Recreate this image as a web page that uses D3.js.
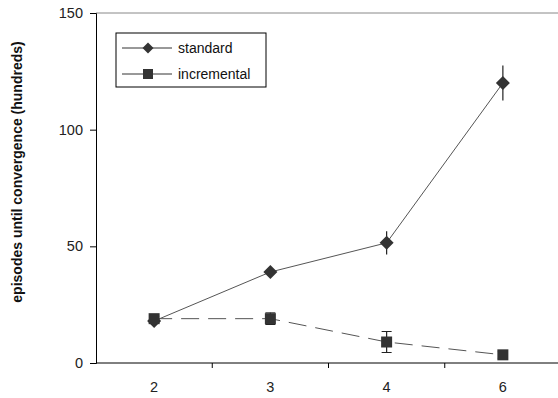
<!DOCTYPE html>
<html>
<head>
<meta charset="utf-8">
<script src="https://cdn.jsdelivr.net/npm/d3@7"></script>
<style>
  body { margin: 0; background: #fff; }
  svg { font-family: "Liberation Sans", Arial, sans-serif; }
</style>
</head>
<body>
<svg id="chart" width="558" height="398"></svg>
<script>
// values (hundreds of episodes)
const categories = ['2', '3', '4', '6'];
const standard = [18, 39, 51.5, 120];
const standardErr = [1, 2, 5, 7.5];
const incremental = [19, 19, 9, 3.5];
const incrementalErr = [1, 2.5, 4.5, 1.5];
const yTicks = [0, 50, 100, 150];

const svg = d3.select('#chart');
const margin = { left: 96, top: 13, right: -3, bottom: 35 };
const width = 558, height = 398;

const x = d3.scaleBand().domain(categories).range([margin.left, width - margin.right]);
const y = d3.scaleLinear().domain([0, 150]).range([height - margin.bottom, margin.top]);

// diamond drawn as a square turned 45 degrees, as in the original
const diamond = s => `M0,${-s}L${s},0L0,${s}L${-s},0Z`;
const square = s => `M${-s},${-s}H${s}V${s}H${-s}Z`;

// top frame line
svg.append('line')
  .attr('x1', margin.left).attr('x2', width)
  .attr('y1', y(150)).attr('y2', y(150))
  .attr('stroke', '#888').attr('stroke-width', 1);

// y axis
const yAxis = svg.append('g')
  .attr('transform', `translate(${margin.left},0)`)
  .call(d3.axisLeft(y).tickValues(yTicks).tickSize(6).tickPadding(7));
yAxis.select('.domain').attr('stroke', '#000');
yAxis.selectAll('.tick line').attr('stroke', '#000');
yAxis.selectAll('text').attr('font-size', 14.5).attr('fill', '#222');

// x axis: ticks at band edges, labels at centres
const xAxisG = svg.append('g').attr('transform', `translate(0,${y(0)})`);
xAxisG.append('line')
  .attr('x1', margin.left).attr('x2', width)
  .attr('stroke', '#000');
categories.forEach((c, i) => {
  if (i > 0) {
    xAxisG.append('line')
      .attr('x1', x(c)).attr('x2', x(c))
      .attr('y1', 0).attr('y2', 5)
      .attr('stroke', '#000');
  }
  xAxisG.append('text')
    .attr('x', x(c) + x.bandwidth() / 2)
    .attr('y', 29)
    .attr('text-anchor', 'middle')
    .attr('font-size', 14.5)
    .attr('fill', '#222')
    .text(c);
});

// y label
svg.append('text')
  .attr('transform', `translate(22,172) rotate(-90)`)
  .attr('text-anchor', 'middle')
  .attr('font-size', 14)
  .attr('font-weight', 'bold')
  .attr('fill', '#111')
  .text('episodes until convergence (hundreds)');

const cx = (d, i) => x(categories[i]) + x.bandwidth() / 2;
const line = d3.line().x((d, i) => cx(d, i)).y(d => y(d));

function drawSeries(values, errs, dash, marker) {
  const g = svg.append('g');
  g.append('path')
    .datum(values)
    .attr('d', line)
    .attr('fill', 'none')
    .attr('stroke', '#555')
    .attr('stroke-width', 1)
    .attr('stroke-dasharray', dash);

  values.forEach((v, i) => {
    const px = cx(v, i);
    g.append('line')
      .attr('x1', px).attr('x2', px)
      .attr('y1', y(v - errs[i])).attr('y2', y(v + errs[i]))
      .attr('stroke', '#222').attr('stroke-width', 1.2);
    if (marker === 'square') {
      [v - errs[i], v + errs[i]].forEach(e => {
        g.append('line')
          .attr('x1', px - 5).attr('x2', px + 5)
          .attr('y1', y(e)).attr('y2', y(e))
          .attr('stroke', '#222');
      });
    }
    g.append('path')
      .attr('transform', `translate(${px},${y(v)})`)
      .attr('d', marker === 'square' ? square(5.5) : diamond(7))
      .attr('fill', '#333');
  });
}

drawSeries(standard, standardErr, null, 'diamond');
drawSeries(incremental, incrementalErr, '18,9', 'square');

// legend
const legend = svg.append('g').attr('transform', 'translate(116,33)');
legend.append('rect')
  .attr('width', 150).attr('height', 54)
  .attr('fill', '#fff').attr('stroke', '#000');
const entries = [['standard', diamond(5.5)], ['incremental', square(5)]];
entries.forEach(([label, shape], i) => {
  const ly = 15 + i * 26;
  legend.append('line')
    .attr('x1', 6).attr('x2', 56).attr('y1', ly).attr('y2', ly)
    .attr('stroke', '#333');
  legend.append('path')
    .attr('transform', `translate(32,${ly})`)
    .attr('d', shape)
    .attr('fill', '#333');
  legend.append('text')
    .attr('x', 62).attr('y', ly + 5)
    .attr('font-size', 14)
    .attr('fill', '#111')
    .text(label);
});
</script>
</body>
</html>
